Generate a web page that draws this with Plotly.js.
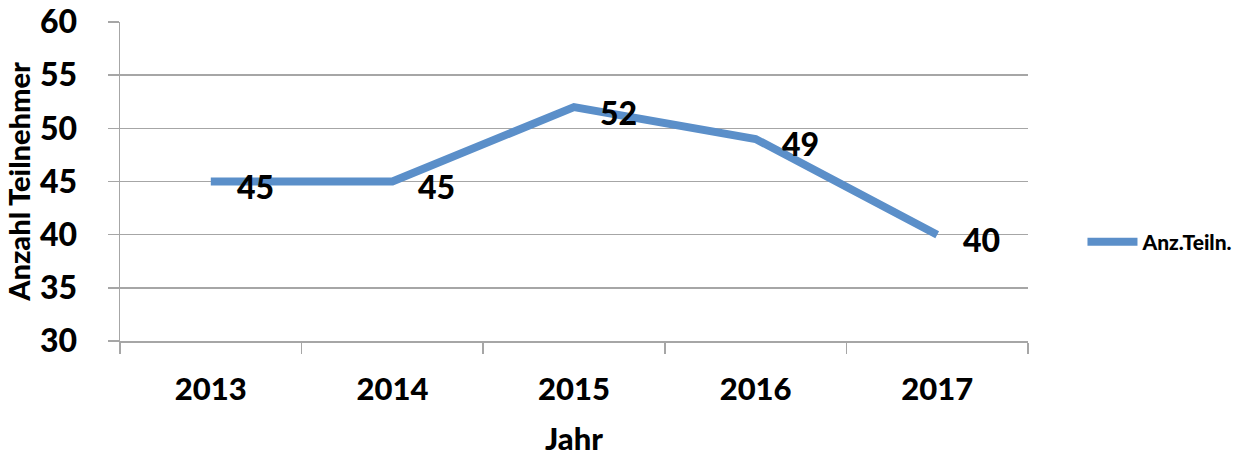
<!DOCTYPE html>
<html><head><meta charset="utf-8">
<script src="https://cdn.plot.ly/plotly-3.0.1.min.js"></script>
<style>body{margin:0;background:#fff}#c{width:1254px;height:459px}</style>
</head><body><div id="c"></div>
<script>
const years = ['2013','2014','2015','2016','2017'];
const teilnehmer = [45, 45, 52, 49, 40];
const seriesName = 'Anz.Teiln.';
const yTicks = [30, 35, 40, 45, 50, 55, 60];

const FONT = 'Lato, "Open Sans", sans-serif';
const gray = '#a6a6a6';

const annotations = years.map((y, i) => ({
  x: i, y: teilnehmer[i], xref: 'x', yref: 'y',
  text: String(teilnehmer[i]), showarrow: false,
  xanchor: 'left', yanchor: 'middle', xshift: 24, yshift: -5,
  font: {family: FONT, size: 32, weight: 900, color: '#000'}
}));

Plotly.newPlot('c', [{
  x: years, y: teilnehmer, type: 'scatter', mode: 'lines', name: seriesName,
  line: {color: '#5b8fc9', width: 8}
}], {
  width: 1254, height: 459,
  margin: {l: 120, r: 226, t: 22, b: 118},
  paper_bgcolor: '#fff', plot_bgcolor: '#fff',
  font: {family: FONT, color: '#000'},
  showlegend: true,
  legend: {x: 1.06, y: 0.31, xanchor: 'left', yanchor: 'middle', itemwidth: 50,
    font: {family: FONT, size: 21, weight: 900, color: '#000'}},
  xaxis: {type: 'category', range: [-0.5, 4.5], showline: true, linecolor: gray, linewidth: 1.5,
    ticks: 'outside', tickson: 'boundaries', ticklen: 11, tickcolor: gray, tickwidth: 1.5,
    showgrid: false, ticklabelstandoff: 20,
    tickfont: {family: FONT, size: 31, weight: 900},
    title: {text: 'Jahr', font: {family: FONT, size: 31, weight: 900}, standoff: 22}},
  yaxis: {range: [30, 60], tickvals: yTicks, showline: true, linecolor: gray, linewidth: 1.5,
    ticks: 'outside', ticklen: 11, tickcolor: gray, tickwidth: 1.5,
    gridcolor: gray, gridwidth: 1.5, zeroline: false, ticklabelstandoff: 24,
    tickfont: {family: FONT, size: 32, weight: 900},
    title: {text: 'Anzahl Teilnehmer', font: {family: FONT, size: 29, weight: 900}, standoff: 1}},
  annotations: annotations
}, {displayModeBar: false, staticPlot: true});
</script></body></html>
